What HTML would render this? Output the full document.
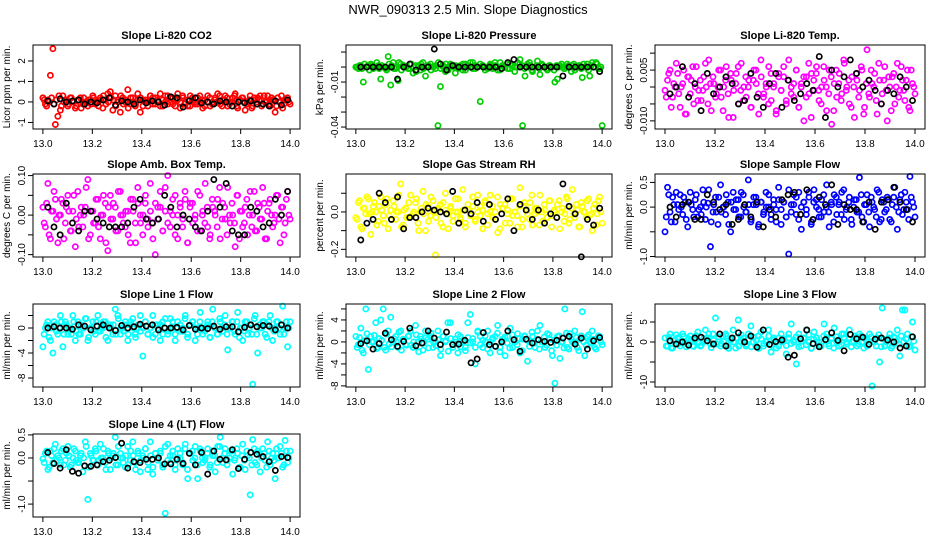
<!DOCTYPE html>
<html><head><meta charset="utf-8">
<style>
html,body{margin:0;padding:0;background:#fff;}
svg{display:block;font-family:"Liberation Sans",sans-serif;}
</style></head>
<body>
<svg id="chart" width="936" height="540" viewBox="0 0 936 540">
<text x="468" y="14" text-anchor="middle" font-size="13">NWR_090313  2.5 Min. Slope Diagnostics</text>
</svg>
<script>
// ---- data (values in the panel's display units; see tick arrays) ----
const xTicks = [13.0,13.2,13.4,13.6,13.8,14.0];
const xTickLabels = ["13.0","13.2","13.4","13.6","13.8","14.0"];

const co2Vals = [0.2,-0.1,0.1,1.3,2.6,-1.1,-0.7,-0.4,0.3,0.1,-0.2,0.2,0.0,-0.3,0.1,0.2,-0.1,0.0,-0.2,0.1,0.3,-0.1,0.0,0.2,-0.3,0.1,0.4,0.5,-0.4,0.3,0.1,-0.5,0.2,0.0,0.6,-0.1,0.2,-0.2,0.4,-0.5,0.1,0.0,-0.2,0.3,0.2,-0.1,0.1,0.4,-0.2,0.0,0.3,0.2,-0.1,0.1,0.4,-0.3,0.2,0.0,-0.2,0.3,0.1,-0.1,0.2,0.0,-0.3,0.1,0.3,-0.2,0.0,0.2,0.4,-0.1,0.1,0.3,-0.2,0.0,0.2,0.4,-0.3,0.1,0.2,-0.4,0.0,0.3,-0.2,0.1,0.2,0.3,-0.1,0.0,0.3,-0.2,0.1,-0.5,0.2,0.0,-0.3,0.1,0.2,-0.1];
const co2Vals2 = [0.1,-0.2,0.0,0.2,-0.1,0.1,0.3,-0.2,0.0,0.1,-0.1,0.2,0.0,-0.2,0.1,-0.3,0.2,0.0,0.1,-0.1,0.2,0.0,-0.2,0.1,0.3,-0.1,0.0,0.2,0.1,-0.2,0.0,0.3,-0.1,0.1,-0.3,0.2,0.0,-0.1,0.1,0.2,-0.2,0.1,0.0,0.3,-0.1,0.2,0.0,-0.2,0.1,0.3,-0.1,0.0,0.2,-0.2,0.1,0.0,0.3,-0.1,0.1,-0.2,0.2,0.0,-0.1,0.3,0.1,-0.2,0.0,0.2,-0.1,0.1,0.0,0.3,-0.2,0.1,0.2,-0.1,0.0,0.3,-0.2,0.1,0.2,0.0,-0.1,0.1,-0.3,0.2,0.0,0.1,-0.2,0.3,0.0,-0.1,0.2,0.1,-0.2,0.0,0.3,-0.1,0.1,0.0];
const co2Black = [0.05,-0.1,0.15,0.0,0.05,0.1,-0.1,0.0,-0.05,0.1,0.2,-0.15,0.05,0.0,-0.1,0.1,-0.05,0.05,0.0,-0.15,0.25,0.2,-0.25,0.05,0.2,-0.05,0.0,-0.1,0.05,0.0,-0.2,0.0,-0.05,0.05,-0.1,-0.1,-0.2,0.05,-0.15,0.1];
const presVals = [0,-1,1,-10,0,1,2,-1,0,1,-8,0,-1,7,-12,3,-1,-9,2,1,0,-1,2,-4,1,0,-2,3,-6,1,2,0,-1,-39,-13,1,-3,0,2,1,-4,0,1,-2,2,0,3,-1,1,0,-23,1,0,-1,2,0,1,-2,3,1,0,-1,2,1,0,3,5,-39,-6,2,1,-3,0,4,-5,1,0,-2,1,0,-10,-8,1,0,-1,2,0,1,-2,0,1,-7,0,2,-6,3,0,2,-1,-39];
const presVals2 = [0,1,-1,2,0,-2,1,0,3,-1,1,0,-2,2,1,-1,0,3,-2,1,0,-1,2,0,-3,1,2,-1,0,1,-2,0,1,3,-1,0,2,-2,1,0,1,-1,0,2,-2,1,0,3,-1,0,2,1,-2,0,1,-1,3,0,-2,1,0,2,-1,1,-3,0,2,1,-1,0,3,-2,0,1,-1,2,0,-1,1,0,-2,1,0,2,-1,0,1,-3,2,0,1,-1,2,0,-2,1,0,3,-1,0];
const presBlack = [0,0,0,0,0,0,-8,0,2,-2,0,0,12,2,-2,1,0,0,0,0,0,0,0,-1,3,5,0,0,0,0,0,0,0,-6,0,0,0,0,0,-3];
const tempVals = [-1,2,5,-3,0,4,-6,1,-8,3,-2,6,0,-4,2,-1,7,-5,1,3,-3,0,5,-7,2,-2,4,-9,1,6,-1,-4,3,0,-6,2,5,-2,8,-3,1,-5,4,0,-8,3,-1,6,-4,2,0,-3,5,-6,1,-10,3,-2,4,-1,6,-4,0,2,-7,5,-11,1,-3,4,-2,7,0,-5,3,-9,2,-1,5,-6,11,-3,1,4,-8,2,-2,6,-10,0,3,-5,7,-1,2,-4,5,-7,1,-2];
const tempVals2 = [-3,4,-6,1,7,-2,0,5,-8,3,2,-5,6,-1,-4,3,0,8,-7,1,-2,5,-3,0,6,-9,2,-1,4,-5,7,0,-3,2,-6,5,1,-8,3,-2,0,6,-4,1,-7,4,-1,3,-5,8,-2,1,5,-6,0,3,-3,7,-9,2,4,-1,-5,6,0,-2,3,-7,5,1,-4,8,-1,2,-6,0,4,-3,6,-8,1,-2,5,0,-4,7,-5,2,-1,3,-7,4,0,-3,6,-1,2,-6,5,0];
const tempBlack = [-2,0,6,-3,1,-7,4,-2,0,3,1,-5,-4,4,-3,-6,1,4,-6,2,-4,-2,1,-1,9,-9,5,0,3,8,4,0,2,-1,-5,-1,-2,3,0,-4];
const boxVals = [2,-3,8,-6,1,4,-7,0,3,-2,5,-4,1,-8,6,0,-3,2,9,-5,1,-2,4,-6,0,3,-9,5,-1,2,-4,6,0,-3,1,-7,4,-2,7,0,-5,3,-1,8,-2,-10,2,6,-4,1,10,-3,0,5,-6,2,-1,4,-7,3,-2,0,6,-4,1,8,-3,-5,2,0,4,-6,3,-1,7,-2,0,-8,5,1,-3,2,-5,6,0,-4,3,-1,7,-6,1,4,-3,0,5,-7,2,-2,6,-1];
const boxVals2 = [-2,3,-5,1,6,-1,0,4,-6,2,1,-4,5,-1,-3,2,0,7,-6,1,-2,4,-3,0,5,-7,2,-1,3,-4,6,0,-2,1,-5,4,1,-7,3,-2,0,5,-3,1,-6,3,-1,2,-4,7,-2,1,4,-5,0,3,-3,6,-7,2,3,-1,-4,5,0,-2,2,-6,4,1,-3,7,-1,2,-5,0,3,-2,5,-6,1,-2,4,0,-3,6,-4,2,-1,3,-6,3,0,-2,5,-1,2,-5,4,0];
const boxBlack = [2,-3,-5,3,-2,-4,1,1,-1,-2,-3,-3,-3,-2,2,4,-1,-2,-1,5,2,-3,0,-1,-3,-4,1,9,2,8,-4,-5,-5,2,1,-3,-2,4,0,6];
const rhVals = [-3,5,-8,2,-1,7,-12,3,0,-5,8,-2,4,-9,1,6,-4,0,15,-7,2,-3,9,-1,5,-6,0,11,-10,3,-2,6,-23,1,4,-8,10,-1,2,-5,7,0,-3,12,-6,1,-2,8,-4,0,3,-9,5,-1,9,-3,0,-11,4,2,-6,1,7,-2,0,-8,13,-4,3,-1,5,-7,2,0,9,-5,1,-3,6,-2,0,4,-9,2,-1,7,-4,12,-3,1,-8,3,0,6,-2,-10,4,-1,8,-6];
const rhVals2 = [-4,6,-9,2,8,-1,0,5,-7,3,1,-6,7,-2,-4,3,0,9,-8,1,-3,5,-2,0,7,-10,2,-1,4,-5,8,0,-3,2,-6,5,1,-9,3,-2,0,7,-4,1,-8,4,-1,3,-5,9,-2,1,6,-7,0,3,-4,8,-9,2,4,-1,-6,7,0,-2,3,-8,5,1,-4,9,-1,2,-7,0,4,-3,6,-8,1,-3,6,0,-5,8,-6,2,-1,4,-8,5,0,-3,7,-1,2,-7,6,0];
const rhBlack = [-15,-6,-4,10,5,-4,8,-9,-3,-3,0,2,1,0,-1,11,-6,1,-1,5,-5,4,-4,-1,7,-10,4,1,-4,1,-6,-1,-3,15,3,-1,-24,-4,-7,2];
const sfVals = [-50,40,-10,20,-30,5,25,-15,10,-40,30,-5,15,-20,0,35,-25,8,-80,-10,20,-35,45,0,-15,10,-50,30,-5,15,-20,25,-10,55,-30,5,20,-40,10,-15,30,0,-25,15,-5,40,-35,10,-20,-95,5,25,-15,30,-45,10,-5,20,-30,35,0,-20,15,-10,45,-40,5,25,-15,10,30,-25,0,20,-35,15,-10,60,-20,5,25,-40,10,-5,35,-30,15,-10,20,-25,5,40,-45,15,-15,30,-5,62,10,-20];
const sfVals2 = [-20,25,-30,5,30,-5,0,20,-25,10,5,-20,25,-5,-15,10,0,35,-30,5,-10,20,-10,0,25,-35,10,-5,15,-20,30,0,-10,5,-25,20,5,-35,10,-10,0,25,-15,5,-30,15,-5,10,-20,35,-10,5,20,-25,0,10,-15,30,-35,10,15,-5,-20,25,0,-10,10,-30,20,5,-15,35,-5,10,-25,0,15,-10,25,-30,5,-10,20,0,-20,30,-25,10,-5,15,-30,20,0,-10,25,-5,10,-25,20,0];
const sfBlack = [0,-20,5,10,-25,-25,25,10,-5,5,-35,-25,5,-20,10,-40,-5,-20,15,25,30,-15,35,-25,20,5,45,-35,5,-5,-5,-30,10,-45,10,15,40,10,-5,-30];
const l1Vals = [-3,0,1,-2,-4,0.5,-1,2,-3,1,-1,0,2,-2,1,-1,0,1.5,-2,0,1,-1,2,-0.5,0,1,-2,0.5,-1,3,2,-1,0,1,-2,0.5,1.5,-1,0,2,-4.5,1,-1,0,2,-1,0.5,-2,1,0,-1,1.5,0,-2,1,-0.5,0,2,-1,0.5,1,-2,0,2.5,-1,0,1,-1.5,3,0,-1,1,-0.5,2,-3.5,0,1,-1,2.5,0,-2,1,-1,0.5,-9,2,-4,0,1,-1,0.5,2,-2,0,1,-1,3.5,0,-3,1];
const l1Vals2 = [-1,0.5,-1.5,0,1,-0.5,0,1,-1,0.5,0,-1,1,-0.5,-1,0.5,0,1.5,-1.5,0,-0.5,1,-0.5,0,1,-1.5,0.5,0,0.5,-1,1.5,0,-0.5,0.5,-1,1,0,-1.5,0.5,-0.5,0,1,-1,0,-1.5,0.5,0,0.5,-1,1.5,-0.5,0,1,-1,0,0.5,-0.5,1.5,-1.5,0.5,1,0,-1,1,0,-0.5,0.5,-1.5,1,0,-1,1.5,0,0.5,-1,0,1,-0.5,1,-1.5,0,-0.5,1,0,-1,1.5,-1,0.5,0,1,-1.5,1,0,-0.5,1,0,0.5,-1,1,0];
const l1Black = [0,0.2,0,0,-0.2,0.5,0.3,-0.3,0.3,0.5,0,-0.4,0.4,0,0.2,0.6,0.3,0.5,-0.3,0,0,0.1,-0.3,0.4,-0.2,0,-0.1,0.3,-0.2,0.2,0.2,-0.6,0.1,0.5,0.2,0.4,0.3,-0.3,0.5,0];
const l2Vals = [1,-0.5,2.5,-2,6,-5,1,0,3.5,-1,4,6,-1.5,2,4.5,0,1,-1,2,0.5,-0.5,1,2,-1,3,0,1,-1.5,2,0.5,1,-1,0,2,-2.5,1,0,3.5,3.5,-1,0.5,-2,1,0,-1,3.5,5,0,-4,2,1,-1,0,2,-2,0.5,1,3,-1,0,-2.5,1,2.5,-1,0,1.5,-2,0.5,1,-3.5,0,1,-1,2,3,0,-1,1.5,0.5,-2.5,-7.5,1,-3,0,6,-1,1.5,0,2,-1,0.5,5.5,-2.5,1,0,2,-1,0.5,1,-0.5];
const l2Vals2 = [-1,0.8,-1.5,0.2,1.5,-0.5,0,1.2,-1.2,0.6,0.3,-1,1.4,-0.4,-0.9,0.6,0,1.8,-1.5,0.2,-0.6,1.1,-0.6,0,1.3,-1.8,0.5,-0.2,0.8,-1.1,1.6,0,-0.7,0.4,-1.3,1,0.2,-1.7,0.6,-0.5,0,1.3,-0.9,0.3,-1.6,0.8,-0.2,0.6,-1,1.8,-0.5,0.3,1.1,-1.3,0,0.7,-0.8,1.6,-1.8,0.5,0.9,-0.2,-1.1,1.3,0,-0.5,0.6,-1.6,1.1,0.3,-0.8,1.8,-0.2,0.5,-1.3,0,0.9,-0.6,1.3,-1.6,0.3,-0.6,1.1,0,-1.1,1.6,-1.3,0.5,-0.2,0.8,-1.6,1.1,0,-0.6,1.3,-0.2,0.5,-1.3,1.1,0];
const l2Black = [-0.3,0.2,-1.3,-0.3,1.6,0.4,-0.8,0.1,2.5,-0.7,-0.2,2,0.7,-0.5,1.8,-0.5,-0.4,0.3,-3.8,-3.1,1.7,-0.5,-0.8,0,2,0.4,-1.7,0.5,-0.2,0.4,0.1,-0.1,0.3,0.7,1,-0.4,0.7,-1.3,0.2,0.8];
const l3Vals = [1,-1,2,-1.5,0.5,1,-1,2,0,-0.5,1.5,-1,0.5,2.5,-1,0,3,1,-0.5,2,6,0,-1,1.5,2,-1,0.5,3,-1.5,5.5,0,1,-1,2,4,0,-1,1.5,2.5,-1,0,3,-2.5,1,0,-1,2,0.5,-3,1,4.5,0,-5.5,2,-1,1,3,0,-1.5,2.5,1,-1,0,4.5,2,-1,1,3.5,0,-1,2,1,-0.5,3,0,1.5,-1,2,0,1,-1,2,-11,0,1,-5,8.5,-1,0.5,2,-1,1,3,-3.5,8,8,2,-1,5,-2];
const l3Vals2 = [-1,1.2,-1.5,0.3,1.8,-0.4,0.2,1.4,-1.2,0.8,0.5,-1.1,1.6,-0.2,-0.8,0.9,0.2,2,-1.4,0.4,-0.5,1.3,-0.4,0.1,1.5,-1.6,0.7,0,1,-1,1.8,0.2,-0.6,0.6,-1.2,1.2,0.4,-1.6,0.8,-0.4,0.2,1.5,-0.8,0.5,-1.5,1,0,0.8,-0.9,2,-0.4,0.5,1.3,-1.2,0.2,0.9,-0.7,1.8,-1.6,0.7,1.1,0,-1,1.5,0.2,-0.4,0.8,-1.5,1.3,0.5,-0.7,2,0,0.7,-1.2,0.2,1.1,-0.5,1.5,-1.5,0.5,-0.5,1.3,0.2,-1,1.8,-1.2,0.7,0,1,-1.5,1.3,0.2,-0.5,1.5,0,0.7,-1.2,1.3,0.2];
const l3Black = [0.3,-0.5,0,-0.8,1,1.2,0.3,-0.5,2,-1,1,2.3,0,1.5,-1.3,3,-0.6,0.1,0.5,-3.8,-3.3,0.8,3,-0.4,-1.2,0.6,2.3,0.4,-2.2,1.9,0.8,1.2,-0.6,0.7,1,0.5,0,-1.5,-1,1.3];
const l4Vals = [-2,10,-25,15,-10,30,5,-15,20,-5,25,-20,0,15,-10,5,-30,35,-90,10,-5,20,-15,30,0,-10,15,-25,5,45,-15,10,0,-20,25,-5,35,-10,15,-30,5,20,-25,35,-35,10,-5,15,-20,-120,30,-10,5,-25,20,0,-15,30,-45,10,-5,25,-45,15,-10,0,20,-15,5,-30,25,45,-10,20,-5,15,-35,0,10,-20,30,-25,5,-80,40,-10,15,-30,20,-5,35,-15,10,-45,0,25,-20,38,-10,15];
const l4Vals2 = [-10,15,-20,5,20,-5,0,15,-15,10,5,-15,20,-5,-10,10,0,25,-20,5,-5,15,-5,0,20,-25,10,0,10,-15,25,0,-10,5,-15,15,5,-25,10,-5,0,20,-10,5,-20,10,0,10,-15,25,-5,5,15,-15,0,10,-10,20,-25,10,15,0,-15,20,0,-5,10,-20,15,5,-10,25,0,10,-15,0,15,-5,20,-20,5,-5,15,0,-15,20,-15,10,0,10,-20,15,0,-5,20,0,10,-15,15,0];
const l4Black = [12,-12,-22,18,-29,-33,-17,-18,-15,-8,-5,1,32,-22,-8,-10,-3,-3,0,-13,-13,-3,-12,10,-15,12,-35,15,-3,-4,18,-23,-3,12,8,3,-8,-27,3,1];

const co2Ticks=[-1,0,1,2], co2Labels=["-1","0","1","2"];
const presTicks=[10,0,-10,-20,-30,-40], presLabels=["","","-0.01","","","-0.04"];
const tempTicks=[10,5,0,-5,-10], tempLabels=["","0.005","","","-0.010"];
const boxTicks=[10,5,0,-5,-10], boxLabels=["0.10","","0.00","","-0.10"];
const rhTicks=[10,0,-10,-20], rhLabels=["","0.0","","-0.2"];
const sfTicks=[50,0,-50,-100], sfLabels=["0.5","0.0","","-1.0"];
const l1Ticks=[2,0,-2,-4,-6,-8], l1Labels=["","0","","-4","","-8"];
const l2Ticks=[6,4,2,0,-2,-4,-6,-8], l2Labels=["","4","","0","","-4","","-8"];
const l3Ticks=[5,0,-5,-10], l3Labels=["5","0","","-10"];
const l4Ticks=[50,0,-50,-100], l4Labels=["0.5","0.0","","-1.0"];

// ---- layout ----
const cols=[[33,300],[346,612],[655,925]];
const rows=[[45,129],[174,257],[304,387],[434,517]];
const panels=[
 {name:"co2",title:"Slope Li-820 CO2",ylab:"Licor ppm per min.",c:0,r:0,ymax:2.78,ymin:-1.32,col:"#ff0000",vals:co2Vals,vals2:co2Vals2,blk:co2Black,ticks:co2Ticks,labels:co2Labels},
 {name:"pressure",title:"Slope Li-820 Pressure",ylab:"kPa per min.",c:1,r:0,ymax:14.7,ymin:-41.3,col:"#00cd00",vals:presVals,vals2:presVals2,blk:presBlack,ticks:presTicks,labels:presLabels},
 {name:"temp",title:"Slope Li-820 Temp.",ylab:"degrees C per min.",c:2,r:0,ymax:12.4,ymin:-12.4,col:"#ff00ff",vals:tempVals,vals2:tempVals2,blk:tempBlack,ticks:tempTicks,labels:tempLabels},
 {name:"box-temp",title:"Slope Amb. Box Temp.",ylab:"degrees C per min.",c:0,r:1,ymax:10.4,ymin:-10.6,col:"#ff00ff",vals:boxVals,vals2:boxVals2,blk:boxBlack,ticks:boxTicks,labels:boxLabels},
 {name:"rh",title:"Slope Gas Stream RH",ylab:"percent per min.",c:1,r:1,ymax:20.3,ymin:-24.1,col:"#ffff00",vals:rhVals,vals2:rhVals2,blk:rhBlack,ticks:rhTicks,labels:rhLabels},
 {name:"sample-flow",title:"Slope Sample Flow",ylab:"ml/min per min.",c:2,r:1,ymax:67,ymin:-101,col:"#0000ff",vals:sfVals,vals2:sfVals2,blk:sfBlack,ticks:sfTicks,labels:sfLabels},
 {name:"line1",title:"Slope Line 1 Flow",ylab:"ml/min per min.",c:0,r:2,ymax:3.84,ymin:-9.44,col:"#00ffff",vals:l1Vals,vals2:l1Vals2,blk:l1Black,ticks:l1Ticks,labels:l1Labels},
 {name:"line2",title:"Slope Line 2 Flow",ylab:"ml/min per min.",c:1,r:2,ymax:6.9,ymin:-8.2,col:"#00ffff",vals:l2Vals,vals2:l2Vals2,blk:l2Black,ticks:l2Ticks,labels:l2Labels},
 {name:"line3",title:"Slope Line 3 Flow",ylab:"ml/min per min.",c:2,r:2,ymax:9.5,ymin:-11.25,col:"#00ffff",vals:l3Vals,vals2:l3Vals2,blk:l3Black,ticks:l3Ticks,labels:l3Labels},
 {name:"line4",title:"Slope Line 4 (LT) Flow",ylab:"ml/min per min.",c:0,r:3,ymax:52,ymin:-128,col:"#00ffff",vals:l4Vals,vals2:l4Vals2,blk:l4Black,ticks:l4Ticks,labels:l4Labels}
];
const NS="http://www.w3.org/2000/svg";
const svg=document.getElementById('chart');
function mk(tag,attrs,parent){const e=document.createElementNS(NS,tag);for(const k in attrs)e.setAttribute(k,attrs[k]);(parent||svg).appendChild(e);return e;}

panels.forEach(p=>{
  const [L,R]=cols[p.c],[T,B]=rows[p.r];
  const span=R-L;
  const xs=v=>L+(v-12.96)/1.08*span;
  const ys=v=>T+(p.ymax-v)/(p.ymax-p.ymin)*(B-T);
  const g=mk('g',{});
  
  
  const t=mk('text',{x:(L+R)/2,y:T-6,'text-anchor':'middle','font-size':11,'font-weight':'bold'},g);
  t.textContent=p.title;
  
  
  const yl=mk('text',{transform:`translate(${L-23},${(T+B)/2}) rotate(-90)`,'text-anchor':'middle','font-size':10},g);
  yl.textContent=p.ylab;
  
  
  const n=p.vals.length;
  p.vals.forEach((v,i)=>{
    const c=mk('circle',{cx:xs(13+i/(n-1)),cy:ys(v),r:2.6,fill:'none',stroke:p.col,'stroke-width':1.7},g);
    
    
  });
  const n2=p.vals2.length;
  p.vals2.forEach((v,i)=>{
    const c=mk('circle',{cx:xs(13+(i+0.5)/n2),cy:ys(v),r:2.6,fill:'none',stroke:p.col,'stroke-width':1.7},g);
    
    
  });
  const m=p.blk.length;
  p.blk.forEach((v,i)=>{
    const c=mk('circle',{cx:xs(13.02+i*0.97/(m-1)),cy:ys(v),r:2.6,fill:'none',stroke:'#000','stroke-width':1.7},g);
    
    
  });
  const box=mk('rect',{x:L,y:T,width:R-L,height:B-T,fill:'none',stroke:'#000','stroke-width':1},g);
  
  
  mk('line',{x1:xs(13),x2:xs(14),y1:B,y2:B,stroke:'#000'},g);
  xTicks.forEach((v,i)=>{
    mk('line',{x1:xs(v),x2:xs(v),y1:B,y2:B+5,stroke:'#000'},g);
    const tx=mk('text',{x:xs(v),y:B+18,'text-anchor':'middle','font-size':10},g);
    tx.textContent=xTickLabels[i];
    
    
  });
  mk('line',{x1:L,x2:L,y1:ys(p.ticks[0]),y2:ys(p.ticks[p.ticks.length-1]),stroke:'#000'},g);
  p.ticks.forEach((v,i)=>{
    mk('line',{x1:L-5,x2:L,y1:ys(v),y2:ys(v),stroke:'#000'},g);
    if(p.labels[i]){
      const ty=mk('text',{transform:`translate(${L-8},${ys(v)}) rotate(-90)`,'text-anchor':'middle','font-size':10},g);
      ty.textContent=p.labels[i];
      
      
    }
  });
});
</script>
</body></html>
